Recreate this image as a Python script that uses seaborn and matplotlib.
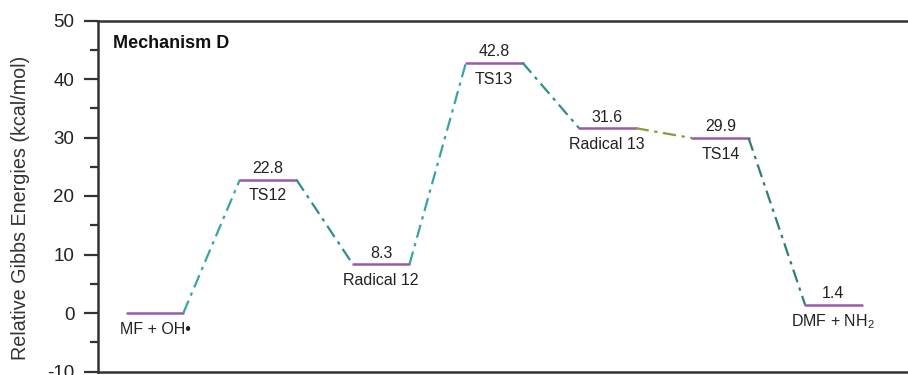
import matplotlib
matplotlib.use("Agg")
import matplotlib.pyplot as plt
from matplotlib.ticker import MultipleLocator
import seaborn as sns
import pandas as pd

# Free-energy profile, Mechanism D
states = ["MF + OH•", "TS12", "Radical 12", "TS13", "Radical 13", "TS14", "DMF + NH$_2$"]
energies = [0.0, 22.8, 8.3, 42.8, 31.6, 29.9, 1.4]
value_labels = ["", "22.8", "8.3", "42.8", "31.6", "29.9", "1.4"]
link_colors = ["#3aa3a6", "#2f8f8c", "#3aa3a6", "#2f8f8c", "#8c9a3c", "#2f7f78"]

sns.set_theme(style="white")
plt.rcParams["font.family"] = ["Liberation Sans", "DejaVu Sans"]
plt.rcParams["mathtext.fontset"] = "custom"
plt.rcParams["mathtext.rm"] = "Liberation Sans"
plt.rcParams["mathtext.it"] = "Liberation Sans"
plt.rcParams["axes.unicode_minus"] = False

fig = plt.figure(figsize=(9.08, 3.75), dpi=100)
ax = fig.add_axes([98 / 908, 1 - 371.5 / 375, 1 - 98 / 908, (371.5 - 20.5) / 375])

half = 0.25
level_rows = []
for i, (s, e) in enumerate(zip(states, energies)):
    level_rows.append({"state": s, "x": i - half, "E": e})
    level_rows.append({"state": s, "x": i + half, "E": e})
levels = pd.DataFrame(level_rows)

sns.lineplot(data=levels, x="x", y="E", units="state", estimator=None,
             color="#9b59a8", lw=1.8, ax=ax, legend=False)

# dash-dot connectors between consecutive states
for i in range(len(states) - 1):
    seg = pd.DataFrame({"x": [i + half, i + 1 - half],
                        "E": [energies[i], energies[i + 1]]})
    sns.lineplot(data=seg, x="x", y="E", color=link_colors[i], lw=1.6,
                 linestyle=(0, (6, 2.5, 1.5, 2.5)), ax=ax, legend=False)

for i, (s, e, v) in enumerate(zip(states, energies, value_labels)):
    if v:
        ax.text(i, e + 1.9, v, ha="center", va="center", fontsize=11.5, color="#222222")
    ax.text(i, e - 2.8, s, ha="center", va="center", fontsize=11.5, color="#222222")

ax.text(-0.37, 46.1, "Mechanism D", fontsize=13, fontweight="bold", color="#111111",
        ha="left", va="center")

ax.set_xlim(-0.505, 6.66)
ax.set_ylim(-10, 50)
ax.yaxis.set_major_locator(MultipleLocator(10))
ax.yaxis.set_minor_locator(MultipleLocator(5))
ax.set_xticks([])
ax.set_xlabel("")
ax.set_ylabel("Relative Gibbs Energies (kcal/mol)", fontsize=14.2, color="#333333")
ax.yaxis.set_label_coords(-0.084, 0.467)
ax.tick_params(axis="y", which="major", direction="out", length=10, width=1.6,
               color="#333333", labelsize=13.5, labelcolor="#222222", left=True, pad=7)
ax.tick_params(axis="y", which="minor", direction="out", length=5.5, width=1.6,
               color="#333333", left=True)
for side in ["left", "top", "bottom"]:
    ax.spines[side].set_color("#333333")
    ax.spines[side].set_linewidth(1.8)
ax.spines["right"].set_visible(False)

fig.savefig("out.png", dpi=100)
